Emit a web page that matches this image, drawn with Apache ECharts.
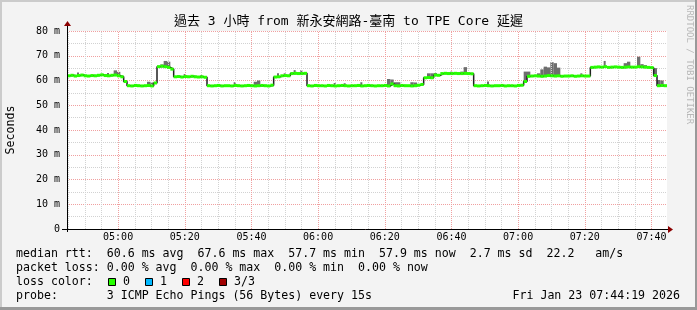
<!DOCTYPE html>
<html><head><meta charset="utf-8">
<script src="https://cdn.jsdelivr.net/npm/echarts@6/dist/echarts.min.js"></script>
<style>html,body{margin:0;padding:0;background:#f3f3f3}#c{width:697px;height:310px}</style>
</head><body><div id="c"></div>
<script>
// ---------------- data ----------------
const chartTitle = '過去 3 小時 from 新永安網路-臺南 to TPE Core 延遲';
const yAxisTitle = 'Seconds';
const startMinute = 4 * 60 + 44 + 40 / 60;   // 04:44:40, left edge of the plot
const spanMinutes = 180;                       // 3 hours
const timeTickLabels = ['05:00','05:20','05:40','06:00','06:20','06:40','07:00','07:20','07:40'];
const yTickValues = [0, 10, 20, 30, 40, 50, 60, 70, 80];

// median rtt (ms), one value per minute from 04:44:40
const medianRtt = [
  61.9,62.1,61.8,62.0,62.2,61.9,61.8,62.0,61.9,62.1,62.3,62.0,61.9,62.1,62.2,61.9,61.5,
  59.6,57.9,57.8,58.0,57.9,57.8,57.9,58.0,57.8,59.0,
  65.6,65.8,65.6,65.3,64.6,
  61.5,61.6,61.4,61.6,61.5,61.7,61.5,61.4,61.5,61.3,
  57.9,57.8,57.9,58.0,57.8,57.9,57.9,57.8,58.0,57.9,57.8,57.9,58.0,57.9,57.8,57.9,58.0,57.9,57.8,58.1,
  61.4,61.5,61.9,62.0,61.9,62.8,62.9,62.8,62.8,62.9,
  57.9,57.8,58.0,57.9,57.9,57.8,58.0,57.9,57.8,57.9,58.0,57.9,57.8,57.9,57.9,58.0,57.8,57.9,58.0,57.9,
  57.8,57.9,57.9,58.0,57.8,58.6,57.9,57.8,58.0,57.9,57.9,57.8,57.9,58.1,58.4,
  61.1,61.2,61.1,62.2,62.1,62.8,62.9,62.8,62.8,62.9,62.8,62.8,62.9,62.8,62.7,
  57.9,57.8,57.9,58.0,57.9,57.8,57.9,57.9,58.0,57.8,57.9,57.9,57.8,58.0,58.1,
  59.6,
  61.7,61.8,61.9,61.8,61.7,61.8,62.0,61.9,61.8,61.9,61.7,61.8,61.8,61.9,61.7,61.8,61.9,61.8,61.8,
  65.3,65.4,65.5,65.4,65.6,65.3,65.4,65.5,65.4,65.3,65.4,65.5,65.4,65.4,65.6,65.5,65.4,65.3,65.2,
  62.0,57.9,58.0,57.9
];

// smoke (spread of single pings): minute index and highest ping (ms)
const smokeMinute = [3,12,14,15,24,25,28,29,30,35,40,50,56,57,63,65,68,70,80,83,88,96,97,98,99,103,104,
  108,109,110,115,118,119,126,137,138,141,142,143,144,145,146,147,154,161,167,168,171,172,173,176,177,178];
const smokeTop = [63.2,63.0,64.1,63.5,59.5,59.2,66.5,67.9,67.6,62.6,62.2,59.3,59.5,60.0,62.9,62.9,64.2,64.2,59.0,58.9,59.3,60.6,60.4,59.3,59.3,59.3,59.2,
  62.9,62.9,63.0,63.6,63.6,65.4,59.6,63.6,63.6,62.9,64.5,65.6,65.3,67.4,67.0,65.2,62.9,67.9,67.0,67.6,69.6,66.6,66.2,65.0,60.2,60.0];

const statLines = [
  'median rtt:  60.6 ms avg  67.6 ms max  57.7 ms min  57.9 ms now  2.7 ms sd  22.2   am/s',
  'packet loss: 0.00 % avg  0.00 % max  0.00 % min  0.00 % now',
  'loss color:',
  'probe:       3 ICMP Echo Pings (56 Bytes) every 15s'
];
const lossLabels = ['0', '1', '2', '3/3'];
const lossColors = ['#26ff00', '#00b8ff', '#ff0000', '#a00000'];
const stampText = 'Fri Jan 23 07:44:19 2026';
const creditText = 'RRDTOOL / TOBI OETIKER';

// ---------------- chart ----------------
const MONO = '"DejaVu Sans Mono", monospace';
const toMin = s => { const [h, m] = s.split(':').map(Number); return h * 60 + m; };
const majorMins = timeTickLabels.map(toMin);
const endMinute = startMinute + spanMinutes;

const gridLines = [];
for (let m = Math.ceil(startMinute / 5) * 5; m < endMinute; m += 5) {
  const k = majorMins.indexOf(m);
  if (k >= 0) {
    gridLines.push({ xAxis: m,
      lineStyle: { color: '#f0a0a0', type: [1, 1], width: 1 },
      label: { show: true, position: 'start', distance: 3, formatter: timeTickLabels[k],
        color: '#000', fontFamily: MONO, fontSize: 10 } });
  } else {
    gridLines.push({ xAxis: m, lineStyle: { color: '#d2d2d2', type: [1, 1], width: 1 }, label: { show: false } });
  }
}

const medianPts = medianRtt.map((v, i) => [startMinute + i, v]);
const stepPts = medianPts.concat([[startMinute + medianRtt.length, medianRtt[medianRtt.length - 1]]]);
// smoke: [x, low, high, width-in-minutes] (isolated pings drawn as thin spikes)
const smokePts = smokeMinute.map((m, k) => {
  const joined = smokeMinute.includes(m - 1) || smokeMinute.includes(m + 1);
  return [startMinute + m, Math.min(medianRtt[m], smokeTop[k]) - 0.4, smokeTop[k], joined ? 1 : 0.6];
});

const graphic = [
  // frame
  { type: 'rect', shape: { x: 0, y: 0, width: 697, height: 310 }, style: { fill: '#f3f3f3' }, z: -10, silent: true },
  { type: 'rect', shape: { x: 0, y: 0, width: 697, height: 2 }, style: { fill: '#cbcbcb' }, silent: true },
  { type: 'rect', shape: { x: 0, y: 0, width: 2, height: 310 }, style: { fill: '#cbcbcb' }, silent: true },
  { type: 'rect', shape: { x: 0, y: 307, width: 697, height: 3 }, style: { fill: '#999' }, silent: true },
  { type: 'rect', shape: { x: 695, y: 0, width: 2, height: 310 }, style: { fill: '#999' }, silent: true },
  // axes with arrows
  { type: 'line', shape: { x1: 67.5, y1: 232, x2: 67.5, y2: 25 }, style: { stroke: '#000', lineWidth: 1 }, z: 50, silent: true },
  { type: 'polygon', shape: { points: [[64, 26], [71, 26], [67.5, 21]] }, style: { fill: '#8b0000' }, z: 50, silent: true },
  { type: 'line', shape: { x1: 62, y1: 229.5, x2: 669, y2: 229.5 }, style: { stroke: '#000', lineWidth: 1 }, z: 50, silent: true },
  { type: 'polygon', shape: { points: [[668, 226], [668, 233], [673, 229.5]] }, style: { fill: '#8b0000' }, z: 50, silent: true },
  // titles
  { type: 'text', x: 348.5, y: 21.5, style: { text: chartTitle, font: '13px "DejaVu Sans Mono", "Noto Sans CJK TC"', fill: '#000', align: 'center', verticalAlign: 'middle', textAlign: 'center', textVerticalAlign: 'middle' }, silent: true },
  { type: 'text', x: 10.5, y: 130, rotation: Math.PI / 2, style: { text: yAxisTitle, font: '11.6px ' + MONO, fill: '#000', align: 'center', verticalAlign: 'middle', textAlign: 'center', textVerticalAlign: 'middle' }, silent: true },
  { type: 'text', x: 689, y: 5, rotation: -Math.PI / 2, style: { text: creditText, font: '9px ' + MONO, fill: '#b8b8b8', align: 'left', verticalAlign: 'middle', textAlign: 'left', textVerticalAlign: 'middle' }, silent: true },
  { type: 'text', x: 680, y: 296, style: { text: stampText, font: '11.6px ' + MONO, fill: '#000', align: 'right', verticalAlign: 'middle', textAlign: 'right', textVerticalAlign: 'middle' }, silent: true }
];
const lineY = [254, 268, 282, 296];
statLines.forEach((t, i) => {
  graphic.push({ type: 'text', x: 16, y: lineY[i], style: { text: t, font: '11.6px ' + MONO, fill: '#000', align: 'left', verticalAlign: 'middle', textAlign: 'left', textVerticalAlign: 'middle' }, silent: true });
});
lossLabels.forEach((t, i) => {
  const bx = 108 + i * 37;
  graphic.push({ type: 'rect', shape: { x: bx + 0.5, y: 278.5, width: 7, height: 7 }, style: { fill: lossColors[i], stroke: '#000', lineWidth: 1 }, silent: true });
  graphic.push({ type: 'text', x: bx + 15, y: 282, style: { text: t, font: '11.6px ' + MONO, fill: '#000', align: 'left', verticalAlign: 'middle', textAlign: 'left', textVerticalAlign: 'middle' }, silent: true });
});

const chart = echarts.init(document.getElementById('c'), null, { renderer: 'canvas' });
chart.setOption({
  animation: false,
  backgroundColor: '#f3f3f3',
  grid: { left: 67, right: 30, top: 31, bottom: 81, containLabel: false, outerBoundsMode: 'none',
    show: true, backgroundColor: '#ffffff', borderWidth: 0 },
  xAxis: { type: 'value', min: startMinute, max: endMinute,
    axisLine: { show: false }, axisTick: { show: false }, axisLabel: { show: false }, splitLine: { show: false } },
  yAxis: { type: 'value', min: yTickValues[0], max: yTickValues[yTickValues.length - 1], interval: 10,
    axisLine: { show: false }, axisTick: { show: false },
    axisLabel: { margin: 7, color: '#000', fontFamily: MONO, fontSize: 10,
      formatter: v => (v === 0 ? '0' : v + ' m') },
    splitLine: { show: true, lineStyle: { color: '#f0a0a0', type: [1, 1], width: 1 } },
    minorTick: { show: false, splitNumber: 2 },
    minorSplitLine: { show: true, lineStyle: { color: '#d2d2d2', type: [1, 1], width: 1 } } },
  series: [
    { name: 'grid', type: 'line', data: [[startMinute, 0]], symbol: 'none', lineStyle: { opacity: 0 }, z: 1, silent: true,
      markLine: { silent: true, symbol: 'none', animation: false, data: gridLines } },
    { name: 'smoke', type: 'custom', z: 3, clip: true, silent: true,
      encode: { x: 0, y: [1, 2] }, data: smokePts,
      renderItem: (params, api) => {
        const x = api.value(0);
        const a = api.coord([x, api.value(2)]);
        const b = api.coord([x + api.value(3), api.value(1)]);
        return { type: 'rect', shape: { x: a[0], y: a[1], width: b[0] - a[0], height: b[1] - a[1] }, style: { fill: '#6e6e6e' } };
      } },
    { name: 'medianStep', type: 'line', step: 'end', data: stepPts, symbol: 'none', z: 4, silent: true,
      lineStyle: { color: '#202020', width: 1.5 } },
    { name: 'median', type: 'custom', z: 5, clip: true, silent: true,
      encode: { x: 0, y: 1 }, data: medianPts,
      renderItem: (params, api) => {
        const x = api.value(0), v = api.value(1);
        const a = api.coord([x, v]);
        const b = api.coord([x + 1, v]);
        return { type: 'line', shape: { x1: a[0], y1: a[1], x2: b[0], y2: b[1] }, style: { stroke: lossColors[0], lineWidth: 3 } };
      } }
  ],
  graphic: graphic
});
</script></body></html>
